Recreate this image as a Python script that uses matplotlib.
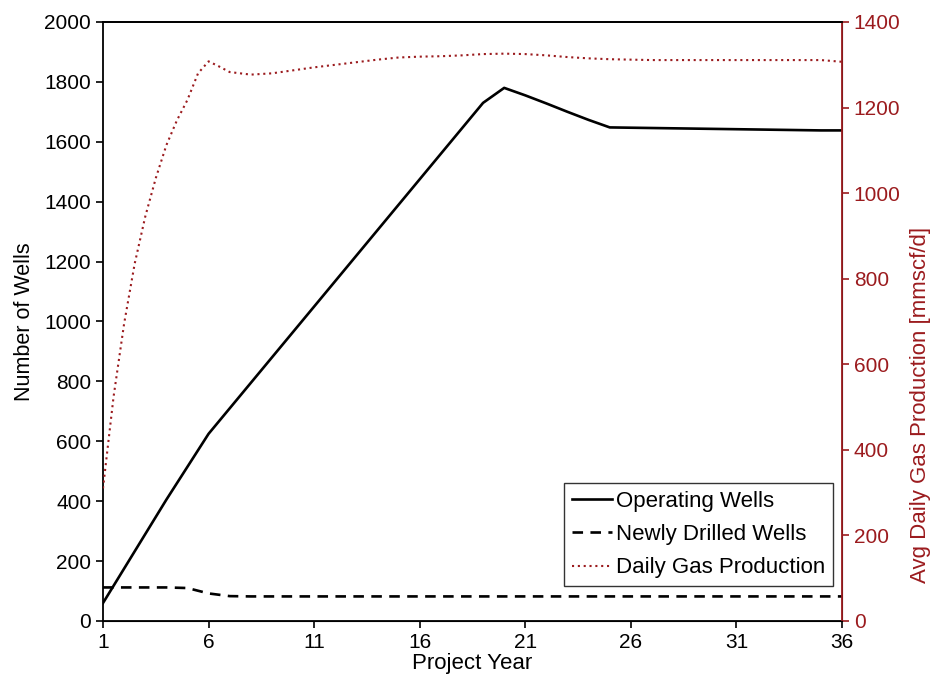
import numpy as np
import matplotlib.pyplot as plt

#1. Data
years = np.arange(1, 37)

operating_wells = [60, 175, 290, 405, 515, 625, 710, 795, 880, 965,
                   1050, 1135, 1220, 1305, 1390, 1475, 1560, 1645, 1730, 1780,
                   1755, 1728, 1700, 1673, 1648, 1647, 1646, 1645, 1644, 1643,
                   1642, 1641, 1640, 1639, 1638, 1638]

new_wells = [112, 112, 112, 112, 110, 92, 83, 82, 82, 82,
             82, 82, 82, 82, 82, 82, 82, 82, 82, 82,
             82, 82, 82, 82, 82, 82, 82, 82, 82, 82,
             82, 82, 82, 82, 82, 82]

# gas production read every half year for the first years (steep part)
gas_years = [1, 1.5, 2, 2.5, 3, 3.5, 4, 4.5, 5, 5.5, 6, 6.5, 7, 8, 9, 10,
             11, 12, 13, 14, 15, 16, 17, 18, 19, 20,
             21, 22, 23, 24, 25, 26, 27, 28, 29, 30,
             31, 32, 33, 34, 35, 36]
gas_production = [310, 524, 695, 835, 945, 1035, 1112, 1170, 1218, 1280, 1308, 1296, 1283, 1277, 1280, 1287,
                  1294, 1300, 1306, 1312, 1317, 1319, 1320, 1322, 1325, 1326,
                  1325, 1322, 1318, 1315, 1313, 1312, 1311, 1311, 1311, 1311,
                  1311, 1311, 1311, 1311, 1311, 1307]

x_ticks = [1, 6, 11, 16, 21, 26, 31, 36]

#2. Style
plt.rcParams["font.family"] = ["Liberation Sans", "DejaVu Sans"]
plt.rcParams["font.size"] = 15
RED = "#9b1b1e"

fig = plt.figure(figsize=(9.33, 6.83), dpi=100)
ax = fig.add_axes([0.1104, 0.0908, 0.7921, 0.877])
ax2 = ax.twinx()

#3. Lines
l1, = ax.plot(years, operating_wells, color="black", lw=1.9, label="Operating Wells")
l2, = ax.plot(years, new_wells, color="black", lw=1.9, linestyle=(0, (4, 2.8)),
              label="Newly Drilled Wells")
l3, = ax2.plot(gas_years, gas_production, color=RED, lw=1.5, linestyle=(0, (1, 1.8)),
               label="Daily Gas Production")

#4. Axes
ax.set_xlim(1, 36)
ax.set_ylim(0, 2000)
ax.set_xticks(x_ticks)
ax.set_yticks(range(0, 2001, 200))
ax2.set_ylim(0, 1400)
ax2.set_yticks(range(0, 1401, 200))

ax.set_xlabel("Project Year", fontsize=16, labelpad=1)
ax.set_ylabel("Number of Wells", fontsize=15.5, labelpad=7)
ax2.set_ylabel("Avg Daily Gas Production [mmscf/d]", color=RED, fontsize=16, labelpad=7)
ax2.yaxis.label.set_y(0.36)

ax.tick_params(direction="out", length=5, width=1.2, colors="black", labelsize=15)
ax2.tick_params(axis="y", direction="out", length=5, width=1.2, colors=RED, labelsize=15)

for name in ["left", "bottom", "top"]:
    ax.spines[name].set_linewidth(1.3)
ax2.spines["right"].set_color(RED)
ax2.spines["right"].set_linewidth(1.3)
ax2.spines["left"].set_visible(False)
ax2.spines["top"].set_linewidth(1.3)

#5. Legend
leg = ax.legend(handles=[l1, l2, l3], loc="lower right",
                bbox_to_anchor=(0.988, 0.058), borderaxespad=0,
                frameon=True, fancybox=False, handlelength=1.8,
                handletextpad=0.2, labelspacing=0.55, borderpad=0.35,
                fontsize=16)
leg.get_frame().set_edgecolor("black")
leg.get_frame().set_linewidth(1.0)

fig.savefig("out.png", dpi=100)
